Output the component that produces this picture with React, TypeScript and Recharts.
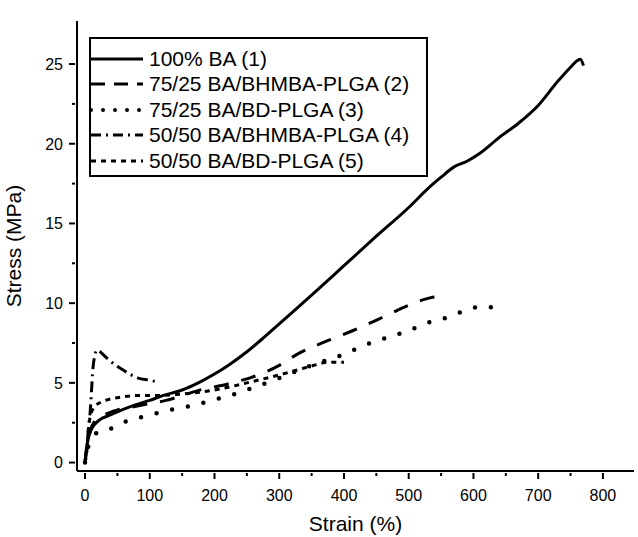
import React from "react";
import { LineChart, Line, XAxis, YAxis, Legend } from "recharts";

const FONT = '"Liberation Sans", Arial, Helvetica, sans-serif';

// 100% BA (1)
const STRAIN_1 = [0, 2, 5, 10, 20, 40, 60, 80, 100, 120, 150, 175, 200, 225, 250, 275, 300, 350, 400, 450, 500, 530, 550, 570, 590, 610, 640, 670, 700, 730, 750, 760, 765, 770];
const STRESS_1 = [0, 0.8, 1.5, 2.1, 2.6, 3.0, 3.35, 3.65, 3.9, 4.2, 4.55, 5.0, 5.55, 6.2, 6.95, 7.8, 8.7, 10.5, 12.35, 14.2, 16.0, 17.2, 17.9, 18.55, 18.9, 19.4, 20.4, 21.3, 22.4, 23.9, 24.8, 25.2, 25.3, 24.9];

// 75/25 BA/BHMBA-PLGA (2)
const STRAIN_2 = [0, 3, 8, 15, 30, 50, 75, 100, 125, 150, 182, 218, 241, 254, 300, 328, 372, 415, 459, 500, 530, 543, 550, 554];
const STRESS_2 = [0, 1.0, 2.0, 2.6, 3.0, 3.3, 3.5, 3.7, 3.9, 4.2, 4.6, 4.9, 5.15, 5.3, 6.1, 6.8, 7.6, 8.3, 9.1, 9.87, 10.3, 10.4, 10.3, 10.15];

// 75/25 BA/BD-PLGA (3)
const STRAIN_3 = [0, 5, 10, 20, 41, 64, 92, 131, 169, 195, 223, 246, 300, 350, 400, 428, 456, 480, 507, 532, 559, 585, 609, 625, 633];
const STRESS_3 = [0, 1.0, 1.5, 1.9, 2.15, 2.6, 2.9, 3.3, 3.6, 3.9, 4.2, 4.5, 5.3, 6.1, 6.8, 7.3, 7.7, 8.0, 8.4, 8.8, 9.1, 9.5, 9.75, 9.75, 9.55];

// 50/50 BA/BHMBA-PLGA (4)
const STRAIN_4 = [0, 3, 5, 8, 10, 12, 15, 18, 22, 26, 38, 59, 82, 100, 110];
const STRESS_4 = [0.1, 1.0, 2.0, 3.2, 4.5, 5.8, 6.7, 7.05, 7.0, 6.85, 6.4, 5.8, 5.3, 5.17, 5.07];

// 50/50 BA/BD-PLGA (5)
const STRAIN_5 = [0, 3, 5, 8, 13, 25, 36, 54, 79, 100, 150, 200, 250, 300, 336, 354, 377, 400];
const STRESS_5 = [0, 0.8, 2.0, 2.9, 3.4, 3.8, 3.95, 4.1, 4.2, 4.2, 4.3, 4.55, 5.0, 5.5, 5.9, 6.1, 6.3, 6.3];

const SERIES_NAMES = [
  "100% BA (1)",
  "75/25 BA/BHMBA-PLGA (2)",
  "75/25 BA/BD-PLGA (3)",
  "50/50 BA/BHMBA-PLGA (4)",
  "50/50 BA/BD-PLGA (5)",
];

const X_TICKS = [0, 50, 100, 150, 200, 250, 300, 350, 400, 450, 500, 550, 600, 650, 700, 750, 800];
const Y_TICKS = [0, 2.5, 5, 7.5, 10, 12.5, 15, 17.5, 20, 22.5, 25];

const zip = (xs: number[], ys: number[]) => xs.map((x, i) => ({ x, y: ys[i] }));

const SERIES = [
  { name: SERIES_NAMES[0], data: zip(STRAIN_1, STRESS_1), dash: undefined, width: 3, cap: "butt" },
  { name: SERIES_NAMES[1], data: zip(STRAIN_2, STRESS_2), dash: "15 13", width: 3, cap: "butt" },
  { name: SERIES_NAMES[2], data: zip(STRAIN_3, STRESS_3), dash: "0 16", width: 4.5, cap: "round" },
  { name: SERIES_NAMES[3], data: zip(STRAIN_4, STRESS_4), dash: "11 5 2 5", width: 3, cap: "butt" },
  { name: SERIES_NAMES[4], data: zip(STRAIN_5, STRESS_5), dash: "5 5", width: 3, cap: "butt" },
];

const LEGEND_DASH = [undefined, "14 9", "0 12", "10 5 2 5", "5 5"];

const isMajorX = (v: number) => v % 100 === 0;
const isMajorY = (v: number) => v % 5 === 0;

const BottomTick = (props: any) => {
  const { x, y, payload } = props;
  const major = isMajorX(payload.value);
  return (
    <g>
      <line x1={x} x2={x} y1={y} y2={y + (major ? 6 : 3)} stroke="#000" strokeWidth={2} />
      {major && (
        <text x={x} y={y + 28} textAnchor="middle" fontSize={16} fontFamily={FONT} fill="#000">
          {payload.value}
        </text>
      )}
    </g>
  );
};

const TopTick = (props: any) => {
  const { x, y, payload } = props;
  const major = isMajorX(payload.value);
  return <line x1={x} x2={x} y1={y} y2={y - (major ? 7 : 4)} stroke="#000" strokeWidth={2} />;
};

const LeftTick = (props: any) => {
  const { x, y, payload } = props;
  const major = isMajorY(payload.value);
  return (
    <g>
      <line x1={x} x2={x - (major ? 6 : 3)} y1={y} y2={y} stroke="#000" strokeWidth={2} />
      {major && (
        <text x={x - 12} y={y} dy="0.36em" textAnchor="end" fontSize={16} fontFamily={FONT} fill="#000">
          {payload.value}
        </text>
      )}
    </g>
  );
};

const RightTick = (props: any) => {
  const { x, y, payload } = props;
  const major = isMajorY(payload.value);
  return <line x1={x} x2={x + (major ? 6 : 3)} y1={y} y2={y} stroke="#000" strokeWidth={2} />;
};

const LegendBox = () => (
  <div
    style={{
      border: "2px solid #000",
      background: "#fff",
      width: 335,
      padding: "7px 0 1px 0",
      fontFamily: FONT,
      fontSize: 21,
      color: "#000",
      boxSizing: "content-box",
    }}
  >
    {SERIES.map((s, i) => (
      <div key={s.name} style={{ display: "flex", alignItems: "center", height: 25.5 }}>
        <svg width={52} height={10} style={{ display: "block" }}>
          <line
            x1={0}
            x2={52}
            y1={5}
            y2={5}
            stroke="#000"
            strokeWidth={i === 2 ? 4 : 3}
            strokeDasharray={LEGEND_DASH[i]}
            strokeLinecap={i === 2 ? "round" : "butt"}
          />
        </svg>
        <span style={{ marginLeft: 6, whiteSpace: "nowrap" }}>{s.name}</span>
      </div>
    ))}
  </div>
);

export default function App() {
  return (
    <div style={{ position: "absolute", left: 0, top: 0, background: "#fff" }}>
      <LineChart width={638} height={537} margin={{ top: 21, right: 4, bottom: 0, left: 0 }}>
        <XAxis
          xAxisId={0}
          dataKey="x"
          type="number"
          domain={[-12.4, 848]}
          ticks={X_TICKS}
          allowDataOverflow
          height={66}
          tickSize={0}
          tickLine={false}
          tick={<BottomTick />}
          axisLine={{ stroke: "#000", strokeWidth: 2 }}
          interval={0}
          label={{
            value: "Strain (%)",
            position: "insideBottom",
            offset: 6,
            style: { fontFamily: FONT, fontSize: 21, fill: "#000" },
          }}
        />
        <XAxis
          xAxisId="top"
          orientation="top"
          type="number"
          domain={[-12.4, 848]}
          ticks={X_TICKS}
          allowDataOverflow
          height={0}
          tickSize={0}
          tickLine={false}
          tick={<TopTick />}
          axisLine={{ stroke: "#000", strokeWidth: 2 }}
          interval={0}
        />
        <YAxis
          yAxisId={0}
          type="number"
          domain={[-0.53, 27.7]}
          ticks={Y_TICKS}
          allowDataOverflow
          width={77}
          tickSize={0}
          tickLine={false}
          tick={<LeftTick />}
          axisLine={{ stroke: "#000", strokeWidth: 2 }}
          interval={0}
          label={{
            value: "Stress (MPa)",
            position: "insideLeft",
            angle: -90,
            offset: 14,
            style: { fontFamily: FONT, fontSize: 21, fill: "#000", textAnchor: "middle" },
          }}
        />
        <YAxis
          yAxisId="right"
          orientation="right"
          type="number"
          domain={[-0.53, 27.7]}
          ticks={Y_TICKS}
          allowDataOverflow
          width={0}
          tickSize={0}
          tickLine={false}
          tick={<RightTick />}
          axisLine={{ stroke: "#000", strokeWidth: 2 }}
          interval={0}
        />
        <Legend
          layout="horizontal"
          verticalAlign="middle"
          align="center"
          content={() => <LegendBox />}
          wrapperStyle={{ left: 89, top: 37, width: "auto", height: "auto" }}
        />
        {SERIES.map((s) => (
          <Line
            key={s.name}
            name={s.name}
            data={s.data}
            dataKey="y"
            xAxisId={0}
            yAxisId={0}
            type="monotone"
            stroke="#000"
            strokeWidth={s.width}
            strokeDasharray={s.dash}
            strokeLinecap={s.cap as any}
            dot={false}
            activeDot={false}
            isAnimationActive={false}
          />
        ))}
      </LineChart>
    </div>
  );
}
